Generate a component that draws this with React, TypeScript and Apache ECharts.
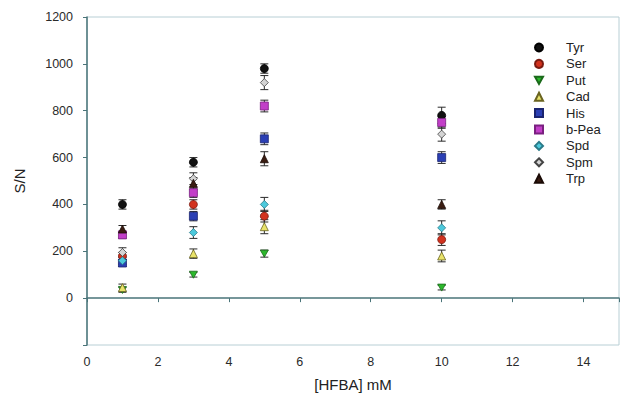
import React, { useEffect, useRef } from "react";
import * as echarts from "echarts";

const xValues = [1, 3, 5, 10];

const names = ["Tyr", "Ser", "Put", "Cad", "His", "b-Pea", "Spd", "Spm", "Trp"];

const tyr = [400, 580, 980, 780];
const ser = [180, 400, 350, 250];
const put = [35, 100, 190, 45];
const cad = [45, 190, 305, 180];
const his = [150, 350, 680, 600];
const bPea = [270, 450, 820, 750];
const spd = [160, 280, 400, 300];
const spm = [195, 510, 920, 700];
const trp = [295, 490, 595, 400];

const tyrErr = [20, 20, 20, 35];
const serErr = [15, 20, 25, 25];
const putErr = [10, 10, 15, 10];
const cadErr = [15, 20, 30, 25];
const hisErr = [15, 20, 25, 25];
const bPeaErr = [15, 20, 25, 25];
const spdErr = [15, 25, 30, 30];
const spmErr = [20, 25, 30, 30];
const trpErr = [15, 25, 30, 20];

const yTicks = { min: -200, max: 1200, interval: 200 };
const xTicks = { min: 0, max: 15, interval: 2 };

const values = [tyr, ser, put, cad, his, bPea, spd, spm, trp];
const errors = [tyrErr, serErr, putErr, cadErr, hisErr, bPeaErr, spdErr, spmErr, trpErr];

const styles = [
  { symbol: "circle", color: "#111111", border: "#000000" },
  { symbol: "circle", color: "#d2321e", border: "#7a1a10" },
  { symbol: "path://M0,0 L10,0 L5,9 Z", color: "#2cb82c", border: "#1a6a1a" },
  { symbol: "triangle", color: "#e9e36a", border: "#6a6420" },
  { symbol: "rect", color: "#2b3fb4", border: "#1a2470" },
  { symbol: "rect", color: "#c23fc8", border: "#7a2080" },
  { symbol: "diamond", color: "#4cc9dc", border: "#2a7a88" },
  { symbol: "diamond", color: "#d4d4d4", border: "#444444" },
  { symbol: "triangle", color: "#3a1c12", border: "#1a0a05" },
];

export default function App() {
  const ref = useRef<HTMLDivElement>(null);
  useEffect(() => {
    if (!ref.current) return;
    const chart = echarts.init(ref.current, null, { renderer: "svg" });
    const font = "'Liberation Sans', Arial, sans-serif";
    const series: any[] = [];
    names.forEach((name, i) => {
      series.push({
        type: "custom",
        name: name + "-err",
        silent: true,
        z: 1,
        encode: { x: 0, y: 1 },
        data: xValues.map((x, k) => [x, values[i][k], errors[i][k]]),
        renderItem: (params: any, api: any) => {
          const x = api.value(0);
          const y = api.value(1);
          const e = api.value(2);
          const t = api.coord([x, y + e]);
          const b = api.coord([x, y - e]);
          const hw = 4;
          const st = { stroke: "#2a2a2a", lineWidth: 1 };
          return {
            type: "group",
            children: [
              { type: "line", shape: { x1: t[0], y1: t[1], x2: b[0], y2: b[1] }, style: st },
              { type: "line", shape: { x1: t[0] - hw, y1: t[1], x2: t[0] + hw, y2: t[1] }, style: st },
              { type: "line", shape: { x1: b[0] - hw, y1: b[1], x2: b[0] + hw, y2: b[1] }, style: st },
            ],
          };
        },
      });
    });
    names.forEach((name, i) => {
      const s = styles[i];
      series.push({
        type: "scatter",
        name,
        z: 2,
        symbol: s.symbol,
        symbolSize: i === 2 ? [8, 7] : 8,
        itemStyle: { color: s.color, borderColor: s.border, borderWidth: 0.8, opacity: 1 },
        data: xValues.map((x, k) => [x, values[i][k]]),
      });
    });

    chart.setOption({
      animation: false,
      backgroundColor: "#ffffff",
      grid: {
        left: 87,
        top: 17,
        right: 1,
        bottom: 55,
        show: true,
        borderColor: "#b8cfd5",
        borderWidth: 1,
        backgroundColor: "transparent",
      },
      legend: {
        orient: "vertical",
        left: 529,
        top: 36,
        itemWidth: 8,
        itemHeight: 8,
        itemGap: 3.4,
        data: names,
        textStyle: { color: "#222222", fontSize: 13, fontFamily: font, padding: [0, 0, 0, 18] },
      },
      xAxis: {
        type: "value",
        min: xTicks.min,
        max: xTicks.max,
        interval: xTicks.interval,
        name: "[HFBA] mM",
        nameLocation: "middle",
        nameGap: 32,
        nameTextStyle: { color: "#222222", fontSize: 15, fontFamily: font },
        axisLine: { show: true, lineStyle: { color: "#4a7479", width: 1.5 } },
        axisTick: { show: true, length: 4, lineStyle: { color: "#4a7479" } },
        axisLabel: {
          color: "#2a2a2a",
          fontSize: 12.5,
          fontFamily: font,
          margin: 10,
          formatter: (v: number) => (v === 15 ? "" : String(v)),
        },
        splitLine: { show: false },
      },
      yAxis: {
        type: "value",
        min: yTicks.min,
        max: yTicks.max,
        interval: yTicks.interval,
        name: "S/N",
        nameLocation: "middle",
        nameGap: 60,
        nameTextStyle: { color: "#222222", fontSize: 15, fontFamily: font },
        axisLine: { show: true, lineStyle: { color: "#4a7479", width: 1.5 } },
        axisTick: { show: true, length: 4, lineStyle: { color: "#4a7479" } },
        axisLabel: {
          color: "#2a2a2a",
          fontSize: 12.5,
          fontFamily: font,
          margin: 14,
          formatter: (v: number) => (v === -200 ? "" : String(v)),
        },
        splitLine: { show: false },
      },
      series,
    });
    return () => chart.dispose();
  }, []);
  return <div ref={ref} style={{ width: 622, height: 400, position: "absolute", left: 0, top: 0 }} />;
}
